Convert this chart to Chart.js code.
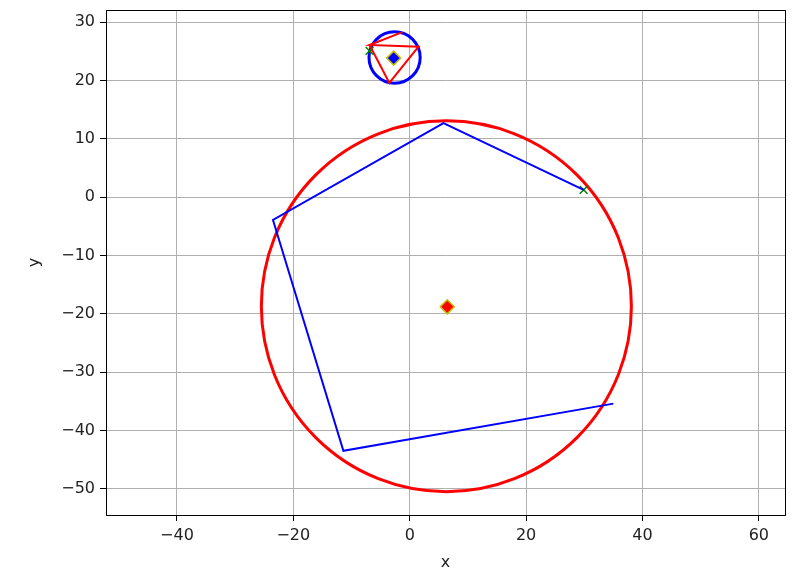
<!DOCTYPE html>
<html>
<head>
<meta charset="utf-8">
<script src="https://cdn.jsdelivr.net/npm/chart.js@4/dist/chart.umd.min.js"></script>
<style>
  body { margin: 0; background: #fff; }
</style>
</head>
<body>
<canvas id="chart" width="795" height="569"></canvas>
<script>
// Data
const xTicks = [-40, -20, 0, 20, 40, 60];
const yTicks = [-50, -40, -30, -20, -10, 0, 10, 20, 30];

// big open blue polygon
const polyX = [35.0, -11.4, -23.5, 5.8, 29.9];
const polyY = [-35.4, -43.5, -3.9, 12.7, 1.25];

// small red triangle path
const triX = [-1.25, -6.9, 1.5, -3.5, -6.9];
const triY = [28.3, 26.1, 25.8, 19.6, 26.1];

// green x markers
const crossX = [29.9, -6.9];
const crossY = [1.25, 25.1];

// diamonds (centres)
const centreX = [6.45, -2.75];
const centreY = [-18.8, 23.85];

// circles: centre and radius in data units
const circleX = [6.3, -2.6];
const circleY = [-18.7, 23.95];
const circleR = [31.8, 4.4];
const circleColor = ['#ff0000', '#0000ff'];

const toPoints = (xs, ys) => xs.map((x, i) => ({ x: x, y: ys[i] }));

const FONT = { family: 'DejaVu Sans', size: 16 };
const minus = (v) => String(v).replace('-', '\u2212');

const circlesPlugin = {
    id: 'circles',
    beforeDatasetsDraw(chart) {
        const { ctx, chartArea, scales: { x, y } } = chart;
        ctx.save();
        ctx.beginPath();
        ctx.rect(chartArea.left, chartArea.top, chartArea.width, chartArea.height);
        ctx.clip();
        circleX.forEach((cxv, i) => {
            const cx = x.getPixelForValue(cxv);
            const cy = y.getPixelForValue(circleY[i]);
            const rx = Math.abs(x.getPixelForValue(cxv + circleR[i]) - cx);
            const ry = Math.abs(y.getPixelForValue(circleY[i] + circleR[i]) - cy);
            ctx.beginPath();
            ctx.ellipse(cx, cy, rx, ry, 0, 0, Math.PI * 2);
            ctx.strokeStyle = circleColor[i];
            ctx.lineWidth = 3;
            ctx.stroke();
        });
        ctx.restore();
    },
    afterDraw(chart) {
        // full frame round the plot area
        const { ctx, chartArea } = chart;
        ctx.save();
        ctx.strokeStyle = '#000';
        ctx.lineWidth = 1;
        ctx.strokeRect(Math.round(chartArea.left) + 0.5, Math.round(chartArea.top) + 0.5,
            Math.round(chartArea.width), Math.round(chartArea.height));
        ctx.restore();
    }
};

Chart.defaults.color = '#222';

new Chart(document.getElementById('chart'), {
    type: 'scatter',
    data: {
        datasets: [
            {
                data: toPoints(polyX, polyY),
                showLine: true,
                borderColor: '#0000ff',
                borderWidth: 2,
                pointRadius: 0,
                fill: false
            },
            {
                data: toPoints(triX, triY),
                showLine: true,
                borderColor: '#ff0000',
                borderWidth: 2,
                pointRadius: 0,
                fill: false
            },
            {
                data: toPoints(crossX, crossY),
                pointStyle: 'crossRot',
                pointRadius: 5.5,
                borderColor: '#008000',
                borderWidth: 1.5
            },
            {
                data: toPoints(centreX.slice(0, 1), centreY.slice(0, 1)),
                pointStyle: 'rectRot',
                pointRadius: 7,
                backgroundColor: '#ff0000',
                borderColor: '#bfbf00',
                borderWidth: 1.5
            },
            {
                data: toPoints(centreX.slice(1), centreY.slice(1)),
                pointStyle: 'rectRot',
                pointRadius: 7,
                backgroundColor: '#0000ff',
                borderColor: '#bfbf00',
                borderWidth: 1.5
            }
        ]
    },
    options: {
        responsive: false,
        animation: false,
        layout: { padding: { left: 0, right: 10, top: 10, bottom: 0 } },
        plugins: {
            legend: { display: false },
            tooltip: { enabled: false }
        },
        scales: {
            x: {
                type: 'linear',
                min: -52.2,
                max: 64.5,
                afterFit: (scale) => { scale.height = 54; scale.paddingLeft = 0; scale.paddingRight = 0; },
                afterBuildTicks: (scale) => { scale.ticks = xTicks.map(v => ({ value: v })); },
                border: { display: false },
                grid: { color: '#b0b0b0', lineWidth: 1, tickLength: 6, tickColor: '#000' },
                ticks: { font: FONT, padding: 5, maxRotation: 0, callback: minus },
                title: { display: true, text: 'x', font: FONT, color: '#222', padding: { top: 0, bottom: -3 } }
            },
            y: {
                type: 'linear',
                min: -54.5,
                max: 32.1,
                afterFit: (scale) => { scale.width = 106; scale.paddingTop = 0; scale.paddingBottom = 0; },
                afterBuildTicks: (scale) => { scale.ticks = yTicks.map(v => ({ value: v })); },
                border: { display: false },
                grid: { color: '#b0b0b0', lineWidth: 1, tickLength: 6, tickColor: '#000' },
                ticks: { font: FONT, padding: 5, callback: minus },
                title: { display: true, text: 'y', font: FONT, color: '#222', padding: { top: 25, bottom: 0 } }
            }
        }
    },
    plugins: [circlesPlugin]
});
</script>
</body>
</html>
